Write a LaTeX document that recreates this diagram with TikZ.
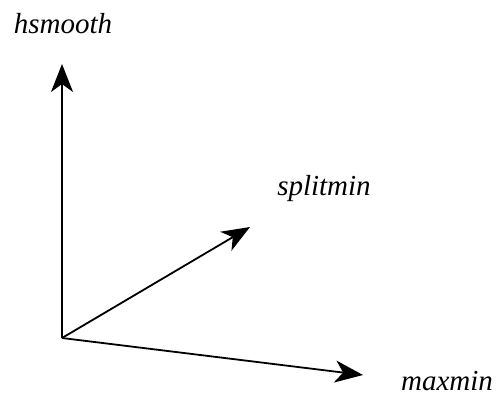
\documentclass[tikz,border=0pt]{standalone}
\usepackage{fontspec}
\setmainfont{Liberation Serif}
\usetikzlibrary{arrows.meta}

\begin{document}
\begin{tikzpicture}[x=0.5pt, y=-0.5pt,
  axis/.style={line width=0.9pt, -{Stealth[length=14pt, width=11pt, inset=4pt]}},
  axislabel/.style={font=\fontsize{14.5}{17}\selectfont\itshape, inner sep=0pt}]
  \useasboundingbox (0,0) rectangle (498,397);

  % Origin and arrow tips
  \coordinate (origin) at (62,338);
  \coordinate (htip) at (62,64);
  \coordinate (stip) at (250,227);
  \coordinate (mtip) at (363,375);

  % Axes
  \draw[axis] (origin) -- (htip);
  \draw[axis] (origin) -- (stip);
  \draw[axis] (origin) -- (mtip);

  % Labels
  \node[axislabel] (hsmooth) at (63,24) {hsmooth};
  \node[axislabel] (splitmin) at (324,189) {splitmin};
  \node[axislabel] (maxmin) at (447,381) {maxmin};
\end{tikzpicture}
\end{document}
